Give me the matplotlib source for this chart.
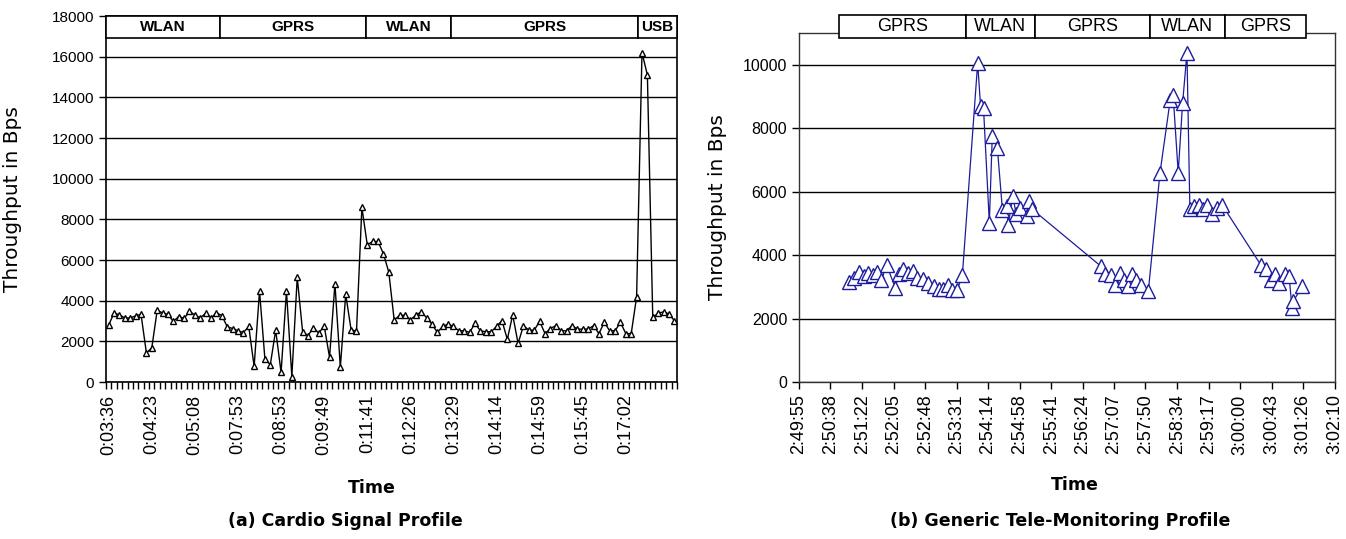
import numpy as np
import matplotlib.pyplot as plt
import matplotlib.transforms as mtransforms
from matplotlib.patches import Rectangle
from matplotlib import font_manager

# (a) Cardio signal profile - one throughput sample per category
cardio_thr = [2800, 3400, 3300, 3150, 3150, 3250, 3330, 1430, 1680, 3520,
              3400, 3320, 2980, 3220, 3130, 3470, 3300, 3150, 3380, 3150,
              3400, 3270, 2720, 2630, 2520, 2430, 2730, 770, 4470, 1130,
              850, 2550, 470, 4470, 270, 5150, 2470, 2280, 2680, 2400,
              2760, 1220, 4830, 730, 4310, 2570, 2490, 8590, 6750, 6910,
              6910, 6310, 5400, 3040, 3280, 3280, 3060, 3280, 3450, 3170,
              2850, 2440, 2730, 2850, 2730, 2520, 2520, 2440, 2880, 2520,
              2470, 2470, 2730, 3020, 2100, 3300, 1900, 2770, 2550, 2550,
              2980, 2380, 2630, 2770, 2520, 2520, 2770, 2600, 2600, 2600,
              2770, 2380, 2930, 2520, 2520, 2930, 2380, 2380, 4180, 16200,
              15100, 3180, 3380, 3450, 3350, 3020]
cardio_ticks = ['0:03:36', '0:04:23', '0:05:08', '0:07:53', '0:08:53',
                '0:09:49', '0:11:41', '0:12:26', '0:13:29', '0:14:14',
                '0:14:59', '0:15:45', '0:17:02']
cardio_net = ['WLAN', 'GPRS', 'WLAN', 'GPRS', 'USB']
cardio_net_edges = [-0.5, 20.7, 47.7, 63.6, 98.3, 105.5]

# (b) Generic tele-monitoring profile - seconds after 2:49:55
tele_t = [69, 75, 82, 89, 94, 102, 107, 113, 120, 132,
          137, 143, 150, 157, 162, 170, 177, 185, 192, 198,
          204, 210, 217, 224,
          245, 249, 253, 261, 265, 272, 279, 285, 287, 293,
          298, 303, 312, 315, 320,
          414, 420, 428, 434, 440, 445, 451, 456, 462, 469, 479,
          495, 509, 513, 520, 526, 532, 536, 542, 549, 554,
          560, 567, 573, 580,
          633, 640, 647, 653, 658, 667, 672, 676, 678, 690]
tele_thr = [3150, 3280, 3460, 3340, 3440, 3360, 3460, 3200, 3700, 2970,
            3390, 3570, 3420, 3490, 3280, 3250, 3130, 3040, 2920, 2920,
            3070, 2900, 2900, 3360,
            10050, 8690, 8640, 5020, 7740, 7380, 5410, 5540, 4960, 5860,
            5280, 5490, 5220, 5700, 5440,
            3650, 3390, 3360, 3070, 3440, 3210, 3020, 3390, 3230, 3070, 2860,
            6590, 8880, 9060, 6590, 8790, 10370, 5440, 5540, 5590, 5440,
            5590, 5280, 5490, 5590,
            3700, 3550, 3230, 3390, 3130, 3390, 3340, 2340, 2550, 3020]
tele_ticks = ['2:49:55', '2:50:38', '2:51:22', '2:52:05', '2:52:48',
              '2:53:31', '2:54:14', '2:54:58', '2:55:41', '2:56:24',
              '2:57:07', '2:57:50', '2:58:34', '2:59:17', '3:00:00',
              '3:00:43', '3:01:26', '3:02:10']
tele_net = ['GPRS', 'WLAN', 'GPRS', 'WLAN', 'GPRS']
tele_net_edges = [55, 229, 323, 481, 584, 695]


def to_sec(s):
    h, m, sec = s.split(':')
    return int(h) * 3600 + int(m) * 60 + int(sec)


# narrow font if the system has one, otherwise just go smaller
installed = {f.name for f in font_manager.fontManager.ttflist}
if 'Liberation Sans Narrow' in installed:
    NARROW, NSIZE = ['Liberation Sans Narrow', 'DejaVu Sans'], 12
else:
    NARROW, NSIZE = ['Liberation Sans', 'DejaVu Sans'], 11
REG = ['Liberation Sans', 'DejaVu Sans']


def draw_band(ax, edges, names, y0, y1, weight, size):
    trans = mtransforms.blended_transform_factory(ax.transData, ax.transAxes)
    for a, b, name in zip(edges[:-1], edges[1:], names):
        ax.add_patch(Rectangle((a, y0), b - a, y1 - y0, transform=trans,
                               fc='white', ec='black', lw=1.2,
                               clip_on=False, zorder=5))
        ax.text((a + b) / 2, (y0 + y1) / 2, name, transform=trans,
                ha='center', va='center', fontsize=size, fontweight=weight,
                family=NARROW, zorder=6, clip_on=False)


fig = plt.figure(figsize=(13.46, 5.39), dpi=100)
W, H = 1346, 539

# ---- (a) ----
ax1 = fig.add_axes([106 / W, 1 - 382 / H, 571 / W, 366 / H])
n = len(cardio_thr)
x1 = np.arange(n)
ax1.plot(x1, cardio_thr, color='black', lw=1.0, marker='^', ms=5,
         mfc='white', mec='black', mew=1.0, zorder=3)
ax1.set_xlim(-0.5, n - 0.5)
ax1.set_ylim(0, 18000)
ax1.set_yticks(range(0, 18001, 2000))
ax1.yaxis.grid(True, color='black', lw=1.0)
ax1.set_axisbelow(True)
ax1.set_xticks(np.arange(len(cardio_ticks)) * 8)
ax1.set_xticklabels(cardio_ticks, rotation=90, family=REG, fontsize=13)
ax1.set_xticks(np.arange(-0.5, n, 1), minor=True)
ax1.tick_params(axis='x', which='major', length=0, pad=9)
ax1.tick_params(axis='x', which='minor', length=5, width=1)
ax1.tick_params(axis='y', length=5, width=1)
for lab in ax1.get_yticklabels():
    lab.set_family(NARROW)
    lab.set_fontsize(NSIZE)
for sp in ax1.spines.values():
    sp.set_linewidth(1.2)
ax1.set_ylabel('Throughput in Bps', fontsize=14.5)
ax1.yaxis.set_label_coords(-0.147, 0.5)
draw_band(ax1, cardio_net_edges, cardio_net, 0.94, 1.0, 'bold', NSIZE)

# ---- (b) ----
ax2 = fig.add_axes([799 / W, 1 - 382 / H, 536 / W, 349 / H])
t0 = to_sec(tele_ticks[0])
tick_pos = [to_sec(s) - t0 for s in tele_ticks]
ax2.plot(tele_t, tele_thr, color='#1c1c9c', lw=0.9, marker='^', ms=10,
         mfc='white', mec='#1c1c9c', mew=1.0, zorder=3)
ax2.set_xlim(tick_pos[0], tick_pos[-1])
ax2.set_ylim(0, 11000)
ax2.set_yticks(range(0, 10001, 2000))
ax2.yaxis.grid(True, color='black', lw=1.0)
ax2.set_axisbelow(True)
ax2.set_xticks(tick_pos)
ax2.set_xticklabels(tele_ticks, rotation=90, family=REG, fontsize=13)
ax2.tick_params(axis='x', length=5, width=1, pad=4)
ax2.tick_params(axis='y', length=5, width=1)
for lab in ax2.get_yticklabels():
    lab.set_family(NARROW)
    lab.set_fontsize(NSIZE + 0.5)
for sp in ax2.spines.values():
    sp.set_linewidth(1.0)
    sp.set_color('#333333')
ax2.set_ylabel('Throughput in Bps', fontsize=14.5)
ax2.yaxis.set_label_coords(-0.134, 0.5)
draw_band(ax2, tele_net_edges, tele_net, 0.9857, 1.0507, 'normal', 13)

# captions
fig.text(372 / W, 1 - 488 / H, 'Time', ha='center', va='center',
         fontsize=12.5, fontweight='bold')
fig.text(345 / W, 1 - 521 / H, '(a) Cardio Signal Profile', ha='center',
         va='center', fontsize=12.5, fontweight='bold')
fig.text(1075 / W, 1 - 485 / H, 'Time', ha='center', va='center',
         fontsize=12.5, fontweight='bold')
fig.text(1060 / W, 1 - 521 / H, '(b) Generic Tele-Monitoring Profile',
         ha='center', va='center', fontsize=12.5, fontweight='bold')

fig.savefig('out.png', dpi=100)
